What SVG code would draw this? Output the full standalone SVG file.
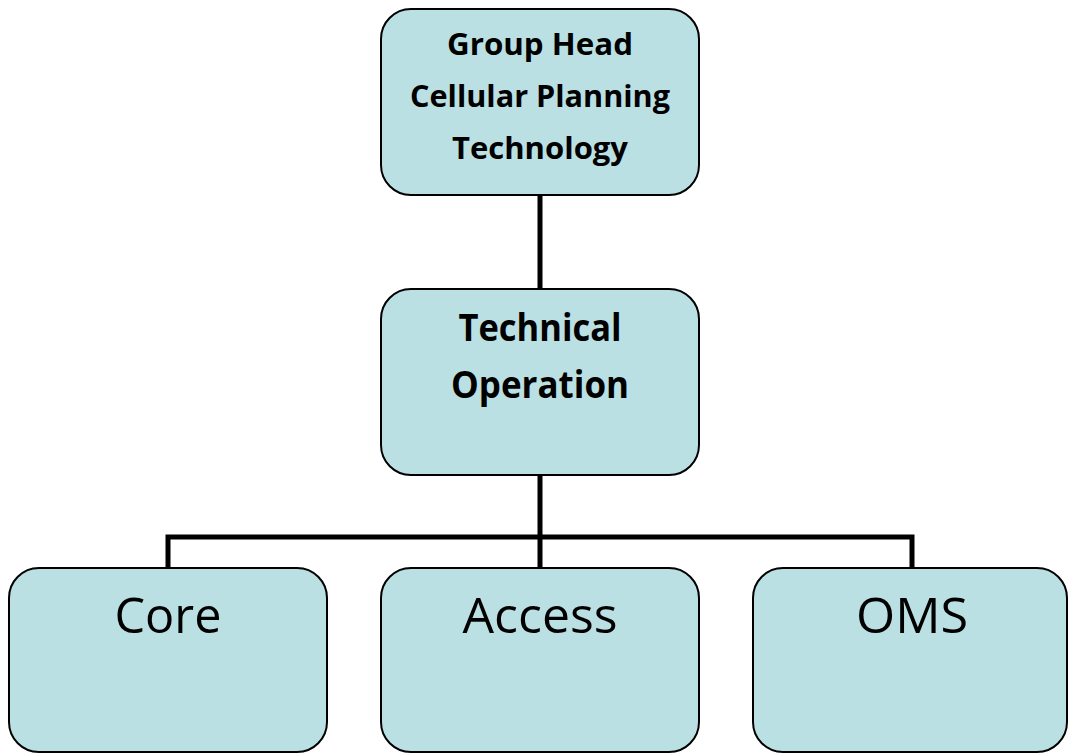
<svg xmlns="http://www.w3.org/2000/svg" width="1068" height="753" viewBox="0 0 1068 753">
<style>
.box{fill:#bae0e3;stroke:#000;stroke-width:2}
.b{font-family:"Open Sans","Liberation Sans",sans-serif;font-weight:bold;fill:#000;text-anchor:middle}
.r{font-family:"Open Sans","Liberation Sans",sans-serif;fill:#000;text-anchor:middle;font-size:50px}
.conn{fill:none;stroke:#000;stroke-width:5}
</style>
<rect width="1068" height="753" fill="#fff"/>
<g id="connectors">
<line class="conn" x1="540" y1="195" x2="540" y2="289"/>
<line class="conn" x1="540" y1="475" x2="540" y2="568"/>
<polyline class="conn" points="168,568 168,537 912,537 912,568"/>
</g>
<g id="group-head">
<rect class="box" x="381" y="9" width="318" height="186" rx="30"/>
<text class="b" font-size="31" x="540" y="55" textLength="186" lengthAdjust="spacingAndGlyphs">Group Head</text>
<text class="b" font-size="31" x="540" y="107" textLength="260" lengthAdjust="spacingAndGlyphs">Cellular Planning</text>
<text class="b" font-size="31" x="540" y="159" textLength="176" lengthAdjust="spacingAndGlyphs">Technology</text>
</g>
<g id="technical-operation">
<rect class="box" x="381" y="289" width="318" height="186" rx="30"/>
<text class="b" font-size="38" x="540" y="341" textLength="163" lengthAdjust="spacingAndGlyphs">Technical</text>
<text class="b" font-size="38" x="540" y="398" textLength="178" lengthAdjust="spacingAndGlyphs">Operation</text>
</g>
<g id="core">
<rect class="box" x="9" y="568" width="318" height="184" rx="30"/>
<text class="r" x="168" y="633" textLength="107" lengthAdjust="spacingAndGlyphs">Core</text>
</g>
<g id="access">
<rect class="box" x="381" y="568" width="318" height="184" rx="30"/>
<text class="r" x="540" y="633" textLength="155" lengthAdjust="spacingAndGlyphs">Access</text>
</g>
<g id="oms">
<rect class="box" x="753" y="568" width="314" height="184" rx="30"/>
<text class="r" x="912" y="633" textLength="112" lengthAdjust="spacingAndGlyphs">OMS</text>
</g>
</svg>
